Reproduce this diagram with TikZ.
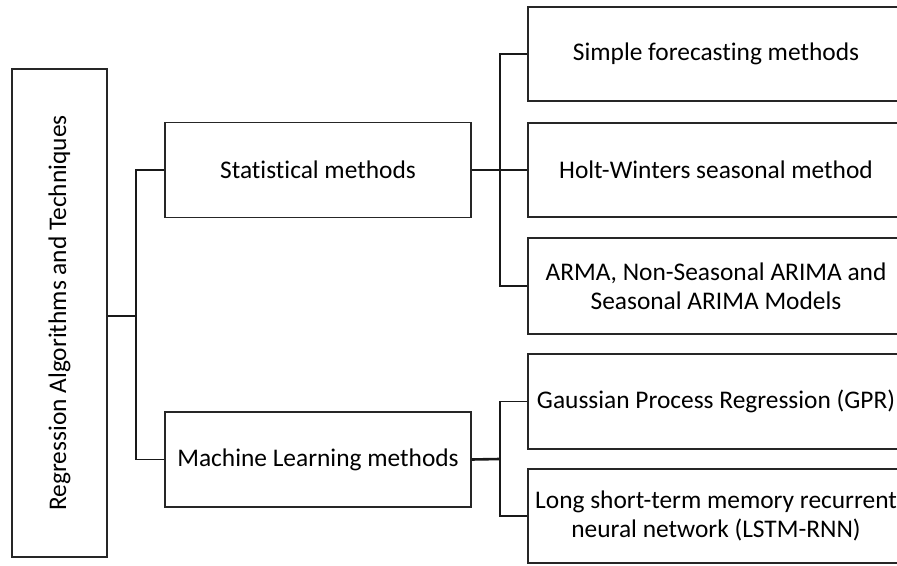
\documentclass[tikz,border=0pt]{standalone}
\usepackage{fontspec}
\setmainfont[Ligatures={NoCommon,NoRare,NoDiscretionary}]{Carlito}
\begin{document}
\begin{tikzpicture}[x=1pt,y=1pt,
  box/.style={draw=black!85, line width=1.5pt, inner sep=0pt, align=center,
    font=\fontsize{25.4}{29}\selectfont},
  conn/.style={draw=black!90, line width=1.8pt},
  trunk/.style={draw=black!90, line width=2.6pt}]
\useasboundingbox (0,0) rectangle (897,565);
\clip (0,0) rectangle (897,565);
% root
\node[box, minimum width=95, minimum height=488] (root) at (59.5,252) {};
\node[rotate=90, font=\fontsize{25.4}{29}\selectfont] (roottext) at (root.center) {Regression Algorithms and Techniques};
% level 1
\node[box, minimum width=306, minimum height=95] (stat) at (318,395) {Statistical methods};
\node[box, minimum width=306, minimum height=95] (ml) at (318,105.5) {Machine Learning methods};
% level 2
\node[box, minimum width=376, minimum height=94] (r1) at (716,511) {Simple forecasting methods};
\node[box, minimum width=376, minimum height=94] (r2) at (716,395) {Holt-Winters seasonal method};
\node[box, minimum width=376, minimum height=96] (r3) at (716,279) {ARMA, Non-Seasonal ARIMA and\\Seasonal ARIMA Models};
\node[box, minimum width=376, minimum height=95] (r4) at (716,163.5) {Gaussian Process Regression (GPR)};
\node[box, minimum width=376, minimum height=94] (r5) at (716,49) {Long short-term memory recurrent\\neural network (LSTM-RNN)};
% junctions
\coordinate (j1) at (136,249);
\coordinate (j2) at (500,395);
\coordinate (j3) at (500,106);
% connectors
\draw[trunk] (root.east |- j1) -- (j1);
\draw[conn] (stat.west) -| (j1) |- (ml.west);
\draw[trunk] (stat.east) -- (j2);
\draw[conn] (r1.west) -| (j2) |- (r3.west);
\draw[conn] (j2) -- (r2.west);
\draw[trunk] (ml.east) -- (j3);
\draw[conn] (r4.west) -| (j3) |- (r5.west);
\end{tikzpicture}
\end{document}
